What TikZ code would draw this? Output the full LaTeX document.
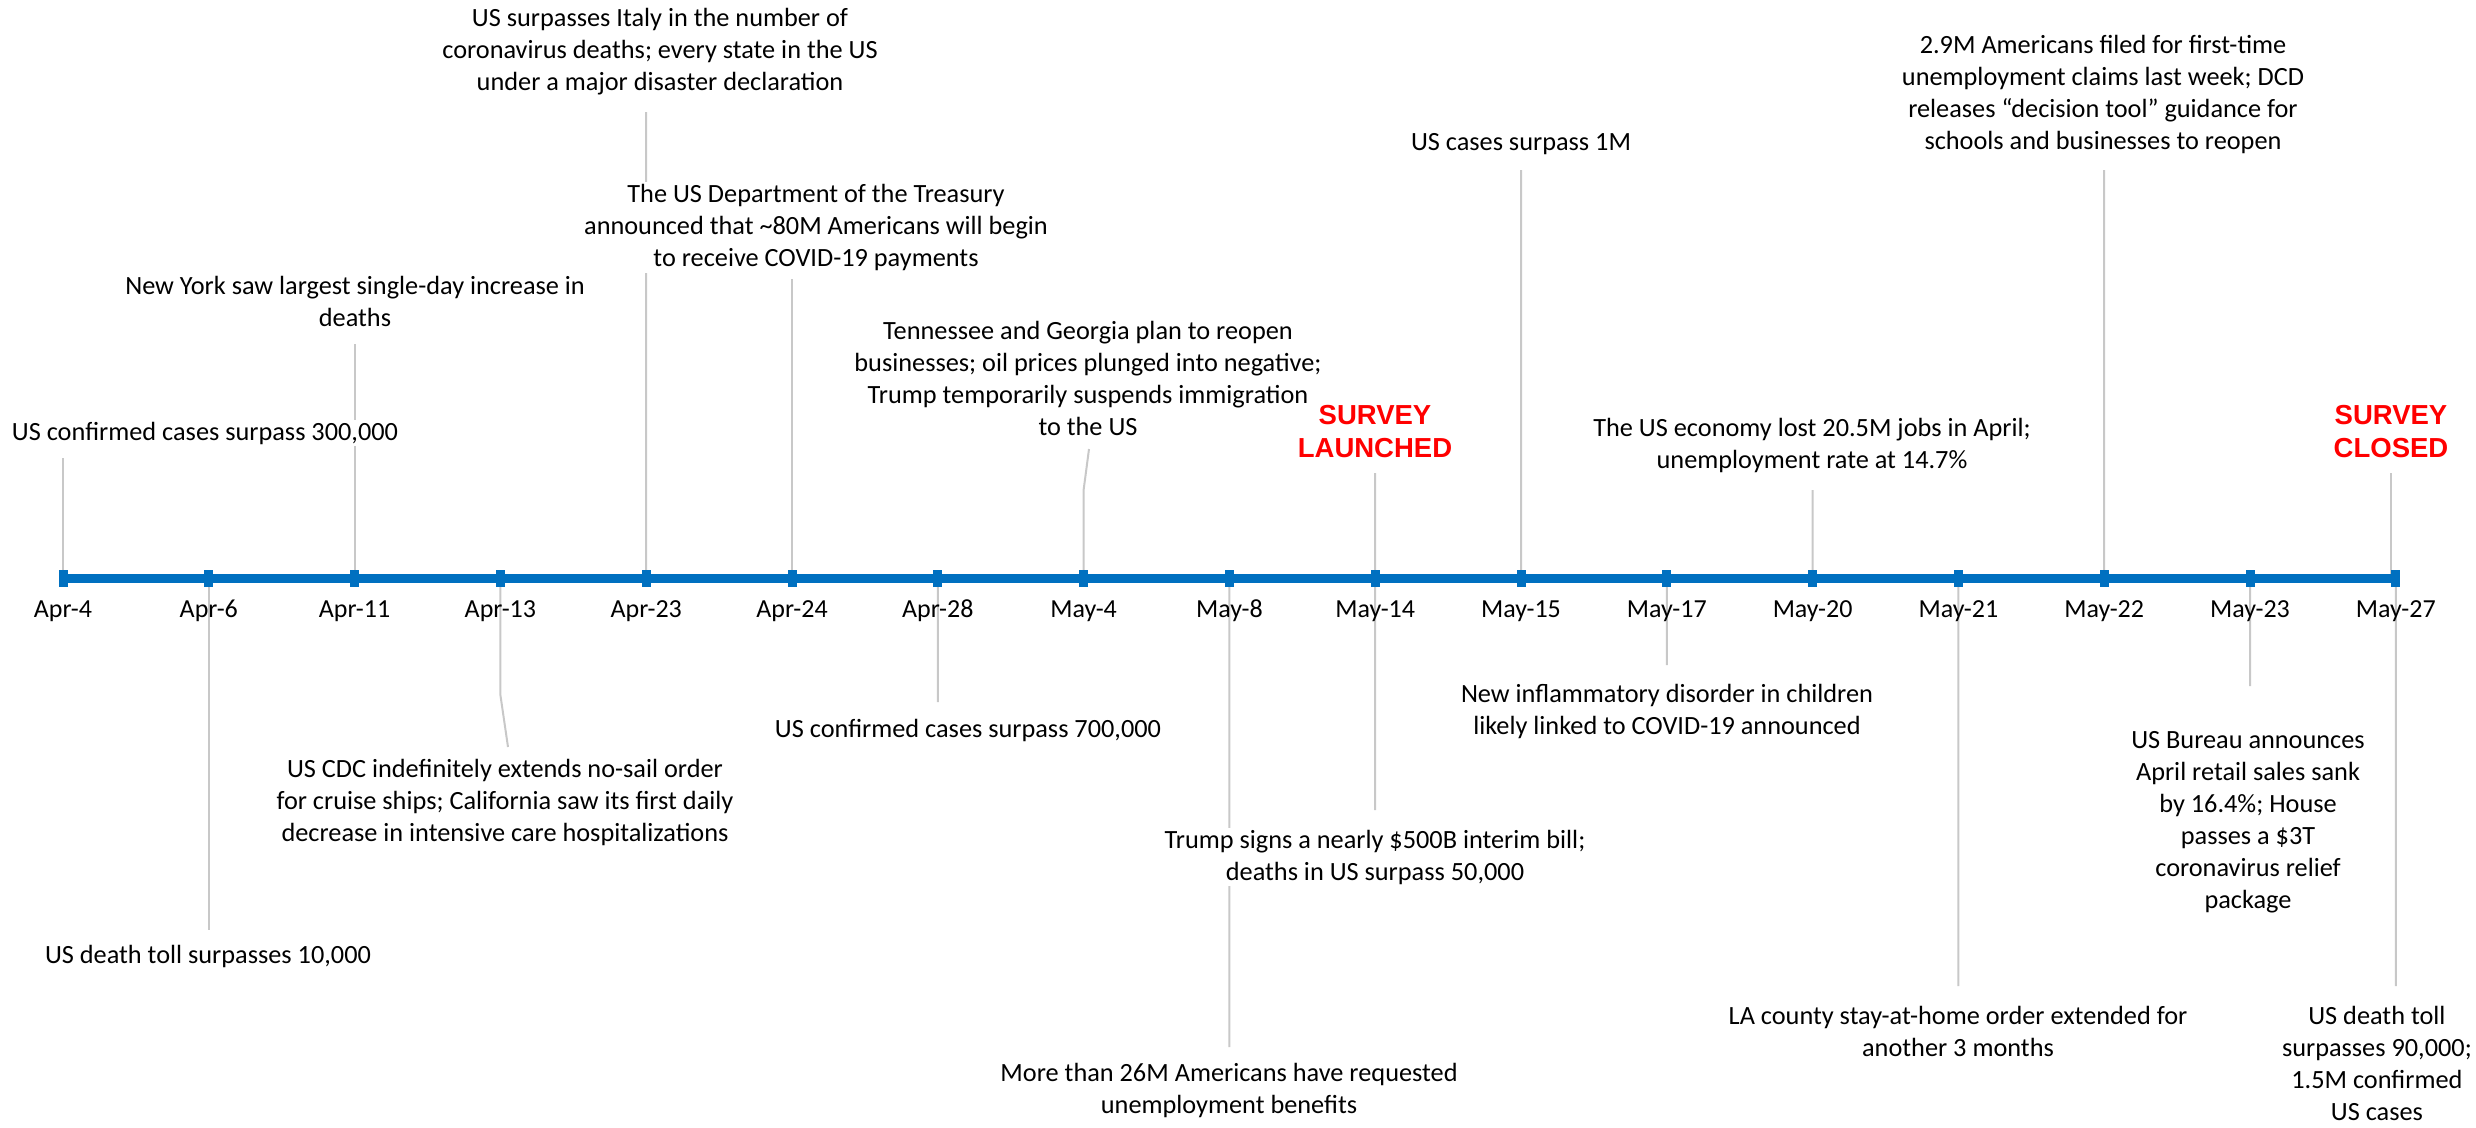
\documentclass[tikz,border=0pt]{standalone}
\usepackage{fontspec}
\setmainfont{Carlito}
\newfontfamily\arialfont{Liberation Sans}
\definecolor{axisblue}{HTML}{0070C0}
\definecolor{leadgray}{HTML}{C8C8C8}
\definecolor{survred}{HTML}{FF0000}
\tikzset{
  evt/.style={align=center, font=\fontsize{26.3}{32}\selectfont, inner sep=2pt},
  evtw/.style={evt, fill=white},
  survey/.style={align=center, font=\arialfont\bfseries\fontsize{27.5}{33}\selectfont, text=survred, inner sep=1pt},
  datelbl/.style={font=\fontsize{26}{30}\selectfont, inner sep=0pt},
  leader/.style={draw=leadgray, line width=2pt},
  axisline/.style={draw=axisblue, line width=9pt},
  tickmark/.style={rectangle, fill=axisblue, minimum width=9pt, minimum height=17pt, inner sep=0pt},
}
\begin{document}
\begin{tikzpicture}[x=1pt,y=-1pt]
\useasboundingbox (0,0) rectangle (2476,1127);
% tick positions
\foreach \d [count=\i from 0] in {Apr-4,Apr-6,Apr-11,Apr-13,Apr-23,Apr-24,Apr-28,May-4,May-8,May-14,May-15,May-17,May-20,May-21,May-22,May-23,May-27}{
  \coordinate (c\i) at ({63+145.8*\i},578);
}
% leader end points
\coordinate (e0) at (63,458);
\coordinate (e1) at (208.8,930);
\coordinate (e2) at (354.6,344);
\coordinate (b3) at (500.4,695);
\coordinate (e3) at (508,747);
\coordinate (e4) at (646.2,112);
\coordinate (e5) at (792,279);
\coordinate (e6) at (937.8,702);
\coordinate (b7) at (1083.6,490);
\coordinate (e7) at (1089,449);
\coordinate (e8) at (1229.4,1047);
\coordinate (e9) at (1375.2,473);
\coordinate (f9) at (1375.2,810);
\coordinate (e10) at (1521,170);
\coordinate (e11) at (1666.8,665);
\coordinate (e12) at (1812.6,490);
\coordinate (e13) at (1958.4,986);
\coordinate (e14) at (2104.2,170);
\coordinate (e15) at (2250,686);
\coordinate (g16) at (2391,578);
\coordinate (e16) at (2391,473);
\coordinate (f16) at (2395.8,986);
% leaders
\draw[leader] (c0) -- (e0);
\draw[leader] (c1) -- (e1);
\draw[leader] (c2) -- (e2);
\draw[leader] (c3) -- (b3) -- (e3);
\draw[leader] (c4) -- (e4);
\draw[leader] (c5) -- (e5);
\draw[leader] (c6) -- (e6);
\draw[leader] (c7) -- (b7) -- (e7);
\draw[leader] (c8) -- (e8);
\draw[leader] (c9) -- (e9);
\draw[leader] (c9) -- (f9);
\draw[leader] (c10) -- (e10);
\draw[leader] (c11) -- (e11);
\draw[leader] (c12) -- (e12);
\draw[leader] (c13) -- (e13);
\draw[leader] (c14) -- (e14);
\draw[leader] (c15) -- (e15);
\draw[leader] (g16) -- (e16);
\draw[leader] (c16) -- (f16);
% axis
\draw[axisline] (c0) -- (c16);
\foreach \d [count=\i from 0] in {Apr-4,Apr-6,Apr-11,Apr-13,Apr-23,Apr-24,Apr-28,May-4,May-8,May-14,May-15,May-17,May-20,May-21,May-22,May-23,May-27}{
  \node[tickmark] (t\i) at (c\i) {};
  \node[datelbl] (d\i) at ([yshift=-33pt]c\i) {\d};
}
% events above the axis
\node[evtw] (n0) at (205,433) {US confirmed cases surpass 300,000};
\node[evt] (n2) at (355,301.5) {New York saw largest single-day increase in\\deaths};
\node[evt] (n4) at (660,52) {US surpasses Italy in the number of\\coronavirus deaths; every state in the US\\under a major disaster declaration};
\node[evtw] (n5) at (816,227.5) {The US Department of the Treasury\\announced that \textasciitilde80M Americans will begin\\to receive COVID-19 payments};
\node[evt] (n7) at (1088,378) {Tennessee and Georgia plan to reopen\\businesses; oil prices plunged into negative;\\Trump temporarily suspends immigration\\to the US};
\node[survey] (n9) at (1375,432) {SURVEY\\LAUNCHED};
\node[evt] (n10) at (1521,144) {US cases surpass 1M};
\node[evt] (n12) at (1812,445) {The US economy lost 20.5M jobs in April;\\unemployment rate at 14.7\%};
\node[evt] (n14) at (2103,94) {2.9M Americans filed for first-time\\unemployment claims last week; DCD\\releases “decision tool” guidance for\\schools and businesses to reopen};
\node[survey] (n16) at (2391,432) {SURVEY\\CLOSED};
% events below the axis
\node[evt] (n1) at (208,956) {US death toll surpasses 10,000};
\node[evt] (n3) at (505,802) {US CDC indefinitely extends no-sail order\\for cruise ships; California saw its first daily\\decrease in intensive care hospitalizations};
\node[evt] (n6) at (968,730) {US confirmed cases surpass 700,000};
\node[evt] (n8) at (1229,1090) {More than 26M Americans have requested\\unemployment benefits};
\node[evtw] (n9b) at (1375,857) {Trump signs a nearly \$500B interim bill;\\deaths in US surpass 50,000};
\node[evt] (n11) at (1667,711) {New inflammatory disorder in children\\likely linked to COVID-19 announced};
\node[evt] (n13) at (1958,1031) {LA county stay-at-home order extended for\\another 3 months};
\node[evt] (n15) at (2248,822) {US Bureau announces\\April retail sales sank\\by 16.4\%; House\\passes a \$3T\\coronavirus relief\\package};
\node[evt, anchor=east] (n16b) at (2474,1063) {US death toll\\surpasses 90,000;\\1.5M confirmed\\US cases};
\end{tikzpicture}
\end{document}
